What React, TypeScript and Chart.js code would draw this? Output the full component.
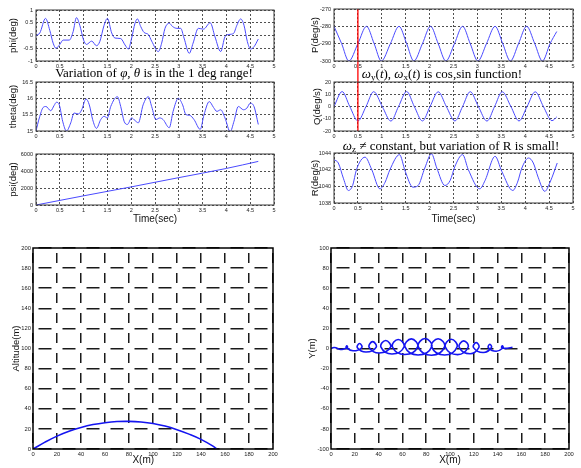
import React, { useEffect, useRef } from "react";
import { Chart, registerables } from "chart.js";

Chart.register(...registerables);

// ---------------- data ----------------
const phiT = [0, 0.08, 0.2, 0.29, 0.36, 0.42, 0.5, 0.57, 0.7, 0.78, 0.85, 0.92, 1.0, 1.06, 1.17, 1.27, 1.34, 1.43, 1.5, 1.59, 1.66, 1.78, 1.87, 1.94, 2.01, 2.08, 2.13, 2.2, 2.27, 2.36, 2.43, 2.57, 2.64, 2.71, 2.8, 2.87, 2.96, 3.04, 3.11, 3.22, 3.3, 3.41, 3.52, 3.66, 3.76, 3.88, 3.97, 4.05, 4.15, 4.22, 4.3, 4.37, 4.44, 4.51, 4.58, 4.67];
const phiV = [0, 0.1, 0.67, 0.2, -0.3, -0.5, -0.35, -0.18, -0.18, 0.15, 0.7, 0.4, -0.18, -0.35, -0.22, -0.4, -0.24, 0.4, 0.67, 0.1, -0.1, -0.12, -0.37, -0.53, -0.1, 0.48, 0.65, 0.35, 0.12, 0.04, -0.22, -0.63, -0.3, 0.28, 0.48, 0.35, 0.28, 0.28, -0.1, -0.7, -0.3, 0.28, 0.25, 0.5, -0.05, -0.63, -0.05, 0.04, 0.08, 0.4, 0.65, 0.4, -0.24, -0.53, -0.44, -0.14];

const thetaT = [0, 0.07, 0.15, 0.21, 0.31, 0.38, 0.43, 0.49, 0.56, 0.64, 0.73, 0.8, 0.89, 0.96, 1.05, 1.12, 1.19, 1.27, 1.36, 1.43, 1.5, 1.57, 1.71, 1.78, 1.85, 1.92, 2.01, 2.08, 2.15, 2.25, 2.36, 2.43, 2.52, 2.6, 2.67, 2.8, 2.88, 2.99, 3.08, 3.15, 3.23, 3.32, 3.45, 3.53, 3.64, 3.73, 3.8, 3.88, 3.97, 4.08, 4.16, 4.25, 4.36, 4.43, 4.5, 4.58, 4.67];
const thetaV = [15.0, 15.4, 15.72, 15.75, 15.62, 15.78, 15.88, 15.8, 15.3, 15.0, 15.25, 15.55, 15.52, 15.65, 15.98, 15.8, 15.35, 15.08, 15.35, 15.45, 15.4, 15.75, 16.05, 15.75, 15.3, 15.2, 15.4, 15.32, 15.25, 15.8, 16.05, 15.75, 15.35, 15.4, 15.35, 15.1, 15.6, 16.0, 15.8, 15.5, 15.48, 15.35, 15.05, 15.5, 15.9, 15.72, 15.6, 15.65, 15.4, 14.98, 15.3, 15.75, 15.65, 15.7, 15.85, 15.75, 15.2];

const psiT = [0, 1, 2, 3, 4, 4.67];
const psiV = [0, 1080, 2130, 3220, 4300, 5130];

const pT = [0, 0.16, 0.31, 0.5, 0.68, 0.84, 0.99, 1.18, 1.36, 1.52, 1.67, 1.85, 2.02, 2.18, 2.34, 2.52, 2.69, 2.85, 3.01, 3.19, 3.37, 3.53, 3.69, 3.86, 4.03, 4.2, 4.36, 4.52, 4.66];
const pV = [-280, -290, -300, -290, -280, -290, -300, -290, -280, -290, -300, -290, -280, -290, -300, -290, -280, -290, -300, -290, -280, -290, -300, -290, -280, -290, -300, -290, -283];

const qT = [0, 0.17, 0.33, 0.5, 0.67, 0.83, 1.01, 1.19, 1.35, 1.52, 1.68, 1.85, 2.01, 2.18, 2.35, 2.53, 2.69, 2.85, 3.02, 3.2, 3.36, 3.52, 3.7, 3.87, 4.04, 4.21, 4.38, 4.56, 4.66];
const qV = [0, 12.2, 0, -11.8, 0, 12.1, 0, -11.9, 0, 12.2, 0, -11.8, 0, 12, 0, -11.8, 0, 12.1, 0, -11.9, 0, 12, 0, -11.8, 0, 12, 0, -11.6, -8.5];

const rT = [0, 0.09, 0.2, 0.3, 0.39, 0.47, 0.65, 0.79, 0.96, 1.07, 1.17, 1.37, 1.49, 1.65, 1.76, 1.9, 2.04, 2.15, 2.32, 2.43, 2.53, 2.69, 2.81, 3.05, 3.16, 3.37, 3.51, 3.74, 3.84, 3.93, 4.07, 4.17, 4.27, 4.41, 4.52, 4.67];
const rV = [1043.2, 1042.8, 1040.9, 1039.5, 1040.1, 1042.0, 1043.5, 1042.0, 1039.7, 1040.5, 1042.0, 1043.8, 1041.8, 1039.9, 1040.1, 1042.2, 1043.9, 1042.2, 1040.1, 1040.7, 1042.4, 1043.8, 1042.0, 1039.7, 1040.7, 1043.6, 1041.8, 1039.5, 1040.5, 1042.2, 1043.4, 1042.8, 1041.1, 1039.4, 1040.5, 1042.8];

const markerT = 0.5;

const altX = [0, 10, 20, 30, 40, 50, 60, 70, 80, 90, 100, 110, 120, 130, 140, 150, 153];
const altY = [0, 6.8, 12.8, 17.6, 21.4, 24.3, 26.2, 27.3, 27.5, 26.9, 25.4, 22.8, 19.2, 14.8, 9.6, 2.8, 0];

const xyX = [0, 2.5, 5, 8, 11, 13.8, 13.3, 12.8, 18.5, 25.8, 24, 22.2, 29.5, 37.9, 35, 32.1, 40.5, 50, 46, 42, 51.3, 61.3, 56.5, 51.7, 62, 72.8, 67.5, 62.2, 73.2, 84.6, 79, 73.4, 84.5, 95.4, 90, 84.6, 95.5, 105.9, 101, 96.1, 106.3, 115.2, 111.5, 107.8, 116.8, 124.2, 122, 119.8, 127.8, 134.7, 133.5, 132.3, 138.8, 144.5, 144, 143.5, 148, 152.5];
const xyY = [0, 1.0, 0.3, -1.0, -0.3, 1.0, 2.6, 1.0, -2.3, 0.8, 5.0, 0.8, -3.5, 1.15, 6.8, 1.15, -4.5, 1.3, 8.0, 1.3, -5.4, 1.5, 9.0, 1.5, -6.0, 1.6, 9.6, 1.6, -6.4, 1.65, 10.0, 1.65, -6.7, 1.6, 9.7, 1.6, -6.5, 1.55, 9.2, 1.55, -6.1, 1.2, 7.6, 1.2, -5.2, 0.9, 5.8, 0.9, -4.0, 0.75, 4.3, 0.75, -2.8, 0.8, 2.6, 0.8, 0.2, 1.2];

// ---------------- layout / styling ----------------
type Box = { l: number; t: number; r: number; b: number };
type Series = { x: number[]; y: number[]; mono: boolean; tension?: number };
type PlotSpec = {
  area: Box;
  canvas: Box;
  big: boolean;
  x: [number, number, number];
  y: [number, number, number];
  series: Series;
  yTitle: string;
  yTitleX: number;
  xTitle?: string;
  xTitleY?: number;
  vline?: { at: number; extendBottom: number };
};

const SANS = "'Liberation Sans', Arial, Helvetica, sans-serif";

const framePlugin = {
  id: "frame",
  afterDatasetsDraw(chart: any, _args: any, opts: any) {
    const { ctx, chartArea: a } = chart;
    ctx.save();
    if (opts.vline) {
      const x = chart.scales.x.getPixelForValue(opts.vline.at);
      ctx.strokeStyle = "#ff0000";
      ctx.lineWidth = 1.3;
      ctx.beginPath();
      ctx.moveTo(x, a.top);
      ctx.lineTo(x, a.bottom + opts.vline.extendBottom);
      ctx.stroke();
    }
    ctx.strokeStyle = opts.color;
    ctx.lineWidth = opts.width;
    ctx.strokeRect(a.left, a.top, a.right - a.left, a.bottom - a.top);
    ctx.restore();
  },
};

const fmt = (v: any) => String(Math.round(Number(v) * 100) / 100);

function buildConfig(p: PlotSpec) {
  const ml = p.area.l - p.canvas.l;
  const mt = p.area.t - p.canvas.t;
  const mr = p.canvas.r - p.area.r;
  const mb = p.canvas.b - p.area.b;
  const tickFont = { family: SANS, size: p.big ? 5.8 : 5.5 };
  const yTitleFont = { family: SANS, size: 9.5, lineHeight: 1.2 };
  const xTitleFont = { family: SANS, size: 10, lineHeight: 1.2 };
  const gridColor = p.big ? "#1a1a1a" : "#505050";
  const gridWidth = p.big ? 1.5 : 1;
  const s = p.series;
  return {
    type: "scatter",
    data: {
      datasets: [
        {
          data: s.x.map((x, i) => ({ x, y: s.y[i] })),
          showLine: true,
          borderColor: p.big ? "#1414f0" : "#4a4aff",
          borderWidth: p.big ? 1.6 : 1,
          pointRadius: 0,
          fill: false,
          tension: s.tension ?? 0.4,
          cubicInterpolationMode: s.mono ? "monotone" : "default",
        },
      ],
    },
    options: {
      responsive: false,
      animation: false,
      devicePixelRatio: 1,
      events: [],
      layout: { padding: { left: 0, top: mt, right: mr, bottom: 0 } },
      plugins: {
        legend: { display: false },
        tooltip: { enabled: false },
        frame: {
          color: p.big ? "#000" : "#3a3a3a",
          width: p.big ? 1.5 : 1,
          vline: p.vline,
        },
      },
      scales: {
        x: {
          type: "linear",
          position: "bottom",
          min: p.x[0],
          max: p.x[1],
          afterFit: (sc: any) => {
            sc.height = mb;
            sc.paddingLeft = 0;
            sc.paddingRight = 0;
          },
          ticks: {
            stepSize: p.x[2],
            autoSkip: false,
            maxRotation: 0,
            padding: 2,
            font: tickFont,
            color: "#222",
            callback: fmt,
          },
          grid: { color: gridColor, lineWidth: gridWidth, drawTicks: false },
          border: p.big
            ? { display: false, dash: [10, 10], dashOffset: 15 }
            : { display: false, dash: [2, 2] },
          title: p.xTitle
            ? {
                display: true,
                text: p.xTitle,
                font: xTitleFont,
                color: "#111",
                padding: { top: 0, bottom: p.canvas.b - (p.xTitleY as number) - 6 },
              }
            : { display: false },
        },
        y: {
          type: "linear",
          position: "left",
          min: p.y[0],
          max: p.y[1],
          afterFit: (sc: any) => {
            sc.width = ml;
            sc.paddingTop = 0;
            sc.paddingBottom = 0;
          },
          ticks: {
            stepSize: p.y[2],
            autoSkip: false,
            padding: p.big ? 2 : 3,
            font: tickFont,
            color: "#222",
            callback: fmt,
          },
          grid: { color: gridColor, lineWidth: gridWidth, drawTicks: false },
          border: p.big
            ? { display: false, dash: [13, 11], dashOffset: 18.5 }
            : { display: false, dash: [2, 2] },
          title: {
            display: true,
            text: p.yTitle,
            font: yTitleFont,
            color: "#111",
            padding: { top: p.yTitleX - p.canvas.l - 5.7, bottom: 0 },
          },
        },
      },
    },
    plugins: [framePlugin],
  };
}

const plots: PlotSpec[] = [
  {
    area: { l: 36, t: 10, r: 274, b: 61 },
    canvas: { l: 0, t: 4, r: 282, b: 74 },
    big: false,
    x: [0, 5, 0.5],
    y: [-1, 1, 0.5],
    series: { x: phiT, y: phiV, mono: true },
    yTitle: "phi(deg)",
    yTitleX: 13,
  },
  {
    area: { l: 36, t: 82, r: 274, b: 131 },
    canvas: { l: 0, t: 76, r: 282, b: 144 },
    big: false,
    x: [0, 5, 0.5],
    y: [15, 16.5, 0.5],
    series: { x: thetaT, y: thetaV, mono: true },
    yTitle: "theta(deg)",
    yTitleX: 13,
  },
  {
    area: { l: 36, t: 154, r: 274, b: 205 },
    canvas: { l: 0, t: 148, r: 282, b: 228 },
    big: false,
    x: [0, 5, 0.5],
    y: [0, 6000, 2000],
    series: { x: psiT, y: psiV, mono: true },
    yTitle: "psi(deg)",
    yTitleX: 13,
    xTitle: "Time(sec)",
    xTitleY: 219,
  },
  {
    area: { l: 334, t: 9, r: 573, b: 61 },
    canvas: { l: 292, t: 3, r: 581, b: 82 },
    big: false,
    x: [0, 5, 0.5],
    y: [-300, -270, 10],
    series: { x: pT, y: pV, mono: true },
    yTitle: "P(deg/s)",
    yTitleX: 315,
    vline: { at: markerT, extendBottom: 21 },
  },
  {
    area: { l: 334, t: 82, r: 573, b: 131 },
    canvas: { l: 292, t: 76, r: 581, b: 144 },
    big: false,
    x: [0, 5, 0.5],
    y: [-20, 20, 10],
    series: { x: qT, y: qV, mono: true },
    yTitle: "Q(deg/s)",
    yTitleX: 317,
    vline: { at: markerT, extendBottom: 0 },
  },
  {
    area: { l: 334, t: 153, r: 573, b: 203 },
    canvas: { l: 292, t: 147, r: 581, b: 228 },
    big: false,
    x: [0, 5, 0.5],
    y: [1038, 1044, 2],
    series: { x: rT, y: rV, mono: true },
    yTitle: "R(deg/s)",
    yTitleX: 315,
    xTitle: "Time(sec)",
    xTitleY: 219,
  },
  {
    area: { l: 33, t: 248, r: 273, b: 449 },
    canvas: { l: 0, t: 242, r: 285, b: 468 },
    big: true,
    x: [0, 200, 20],
    y: [0, 200, 20],
    series: { x: altX, y: altY, mono: false, tension: 0.4 },
    yTitle: "Altitude(m)",
    yTitleX: 16,
    xTitle: "X(m)       ",
    xTitleY: 460,
  },
  {
    area: { l: 331, t: 248, r: 569, b: 449 },
    canvas: { l: 292, t: 242, r: 581, b: 468 },
    big: true,
    x: [0, 200, 20],
    y: [-100, 100, 20],
    series: { x: xyX, y: xyY, mono: false, tension: 0.5 },
    yTitle: "Y(m)",
    yTitleX: 312,
    xTitle: "X(m)",
    xTitleY: 460,
  },
];

function Plot({ spec }: { spec: PlotSpec }) {
  const ref = useRef<HTMLCanvasElement>(null);
  useEffect(() => {
    const chart = new Chart(ref.current as HTMLCanvasElement, buildConfig(spec) as any);
    return () => chart.destroy();
  }, [spec]);
  const c = spec.canvas;
  return (
    <canvas
      ref={ref}
      width={c.r - c.l}
      height={c.b - c.t}
      style={{ position: "absolute", left: c.l, top: c.t, width: c.r - c.l, height: c.b - c.t }}
    />
  );
}

const captionStyle = (cx: number, baseline: number): React.CSSProperties => ({
  position: "absolute",
  left: cx,
  top: baseline - 11.4,
  transform: "translateX(-50%)",
  whiteSpace: "nowrap",
  fontFamily: "'Liberation Serif', 'Times New Roman', serif",
  fontSize: 13,
  lineHeight: "14px",
  color: "#000",
});
const subStyle: React.CSSProperties = { fontSize: "70%", verticalAlign: "-0.25em", lineHeight: 0 };

export default function App() {
  return (
    <div style={{ position: "absolute", left: 0, top: 0, width: 581, height: 468, background: "#fff", overflow: "hidden" }}>
      {plots.map((p, i) => (
        <Plot key={i} spec={p} />
      ))}
      <div style={captionStyle(154, 77.5)}>
        Variation of <i>φ</i>, <i>θ</i> is in the 1 deg range!
      </div>
      <div style={captionStyle(442, 78)}>
        <i>ω</i>
        <span style={subStyle}>y</span>(<i>t</i>), <i>ω</i>
        <span style={subStyle}>x</span>(<i>t</i>) is cos,sin function!
      </div>
      <div style={captionStyle(451, 150)}>
        <i>ω</i>
        <span style={subStyle}>z</span> ≠ constant, but variation of R is small!
      </div>
    </div>
  );
}
